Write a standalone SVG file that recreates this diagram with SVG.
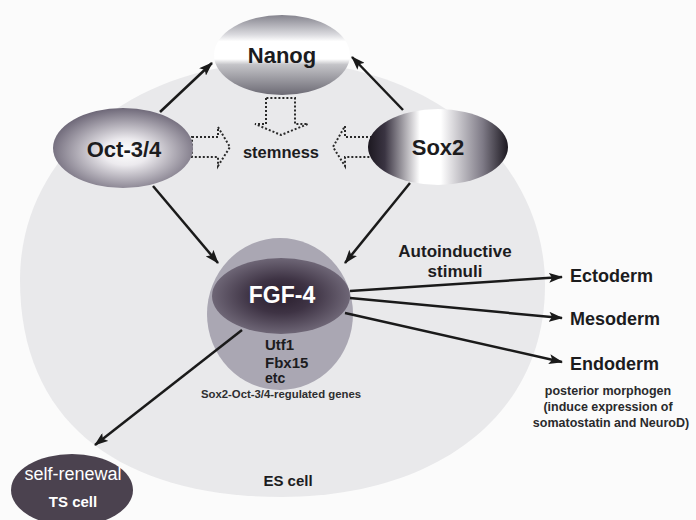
<svg xmlns="http://www.w3.org/2000/svg" width="696" height="520" viewBox="0 0 696 520">
<defs>
<style>
text{font-family:"Liberation Sans",Arial,sans-serif;font-weight:bold;fill:#1c1c1e}
.big{font-size:22px;text-anchor:middle}
.mid{font-size:16px}
.germ{font-size:18px}
.note{font-size:12.5px;text-anchor:middle;fill:#2a2a2c}
.wt{fill:#ffffff}
.conn{stroke:#1a1a1a;stroke-width:2.5;fill:none;marker-end:url(#ah)}
.dot{fill:none;stroke:#2a2a2a;stroke-width:2;stroke-dasharray:2 2}
</style>
<marker id="ah" viewBox="0 0 14 10" refX="13" refY="5" markerWidth="14" markerHeight="10" markerUnits="userSpaceOnUse" orient="auto">
<path d="M0,0 L14,5 L0,10 L3,5 Z" fill="#1a1a1a"/>
</marker>
<linearGradient id="gNanog" x1="0" y1="0" x2="0" y2="1">
<stop offset="0" stop-color="#85848e"/>
<stop offset="0.25" stop-color="#dcdce0"/>
<stop offset="0.33" stop-color="#ffffff"/>
<stop offset="0.55" stop-color="#ffffff"/>
<stop offset="0.62" stop-color="#c4c4c8"/>
<stop offset="1" stop-color="#6c6a74"/>
</linearGradient>
<radialGradient id="gOct" cx="0.52" cy="0.55" r="0.55">
<stop offset="0" stop-color="#ffffff"/>
<stop offset="0.3" stop-color="#eceaee"/>
<stop offset="1" stop-color="#6e6878"/>
</radialGradient>
<linearGradient id="gSox" x1="0" y1="0" x2="1" y2="0">
<stop offset="0" stop-color="#1c1820"/>
<stop offset="0.12" stop-color="#3a3442"/>
<stop offset="0.37" stop-color="#ffffff"/>
<stop offset="0.52" stop-color="#ffffff"/>
<stop offset="0.82" stop-color="#7e7a86"/>
<stop offset="1" stop-color="#1c1820"/>
</linearGradient>
<radialGradient id="gFgf" cx="0.5" cy="0.5" r="0.5">
<stop offset="0" stop-color="#2a1f2e"/>
<stop offset="0.45" stop-color="#3e3344"/>
<stop offset="1" stop-color="#6e6676"/>
</radialGradient>
</defs>
<rect width="696" height="520" fill="#fbfbfb"/>
<g id="es-cell">
<path d="M20,280 C20,150 140,62 282,62 C430,62 545,160 545,285 C545,420 430,497 282,497 C130,497 20,430 20,280 Z" fill="#e9e9eb"/>
<text x="288" y="486" style="font-size:15px;text-anchor:middle">ES cell</text>
</g>
<g id="stemness">
<path class="dot" d="M192,137 L218,137 L218,127 L230,147 L218,166 L218,157 L192,157 Z"/>
<path class="dot" d="M372,137 L345,137 L345,126 L333,147 L345,166 L345,157 L372,157 Z"/>
<path class="dot" d="M266,98 L266,124 L255,124 L281,135 L308,124 L295,124 L295,98 Z"/>
<text x="281" y="158" class="mid" style="text-anchor:middle;font-size:16.5px">stemness</text>
</g>
<g id="nanog">
<ellipse cx="282" cy="55" rx="68" ry="40" fill="url(#gNanog)"/>
<text x="282" y="63" class="big">Nanog</text>
</g>
<g id="oct34">
<ellipse cx="123" cy="148" rx="70" ry="40" fill="url(#gOct)"/>
<text x="124" y="157" class="big">Oct-3/4</text>
</g>
<g id="sox2">
<ellipse cx="438" cy="147" rx="70" ry="38" fill="url(#gSox)"/>
<text x="438" y="155" class="big">Sox2</text>
</g>
<g id="fgf4">
<ellipse cx="280" cy="314" rx="73" ry="76" fill="#aaa7b3"/>
<ellipse cx="281" cy="296" rx="69" ry="38" fill="url(#gFgf)"/>
<text x="282" y="303" class="big wt" style="font-size:23px">FGF-4</text>
<text x="265" y="350" style="font-size:15px">Utf1</text>
<text x="265" y="368" style="font-size:15px">Fbx15</text>
<text x="265" y="383" style="font-size:14px">etc</text>
<text x="281" y="398" style="font-size:10.5px;text-anchor:middle;fill:#2e2e30" textLength="160" lengthAdjust="spacingAndGlyphs">Sox2-Oct-3/4-regulated genes</text>
</g>
<g id="autoinductive">
<text x="455" y="257" style="font-size:17px;text-anchor:middle">Autoinductive</text>
<text x="455" y="277" style="font-size:17px;text-anchor:middle">stimuli</text>
</g>
<g id="ectoderm"><text x="570" y="282" class="germ">Ectoderm</text></g>
<g id="mesoderm"><text x="570" y="325" class="germ">Mesoderm</text></g>
<g id="endoderm">
<text x="570" y="370" class="germ">Endoderm</text>
<text x="608" y="395" class="note">posterior morphogen</text>
<text x="608" y="411" class="note">(induce expression of</text>
<text x="611" y="427" class="note">somatostatin and NeuroD)</text>
</g>
<g id="self-renewal">
<ellipse cx="72" cy="490" rx="61" ry="36" fill="#4b424f"/>
<text x="73" y="480" style="font-size:18px;font-weight:normal;text-anchor:middle;fill:#ffffff">self-renewal</text>
<text x="73" y="507" style="font-size:15px;text-anchor:middle;fill:#ffffff">TS cell</text>
</g>
<g id="connectors">
<line class="conn" x1="160" y1="112" x2="212" y2="63"/>
<line class="conn" x1="403" y1="110" x2="352" y2="57"/>
<line class="conn" x1="153" y1="186" x2="218" y2="263"/>
<line class="conn" x1="410" y1="183" x2="345" y2="263"/>
<line class="conn" x1="350" y1="291" x2="562" y2="277"/>
<line class="conn" x1="350" y1="298" x2="562" y2="318"/>
<line class="conn" x1="345" y1="313" x2="562" y2="362"/>
<line class="conn" x1="242" y1="330" x2="95" y2="445"/>
</g>
</svg>
